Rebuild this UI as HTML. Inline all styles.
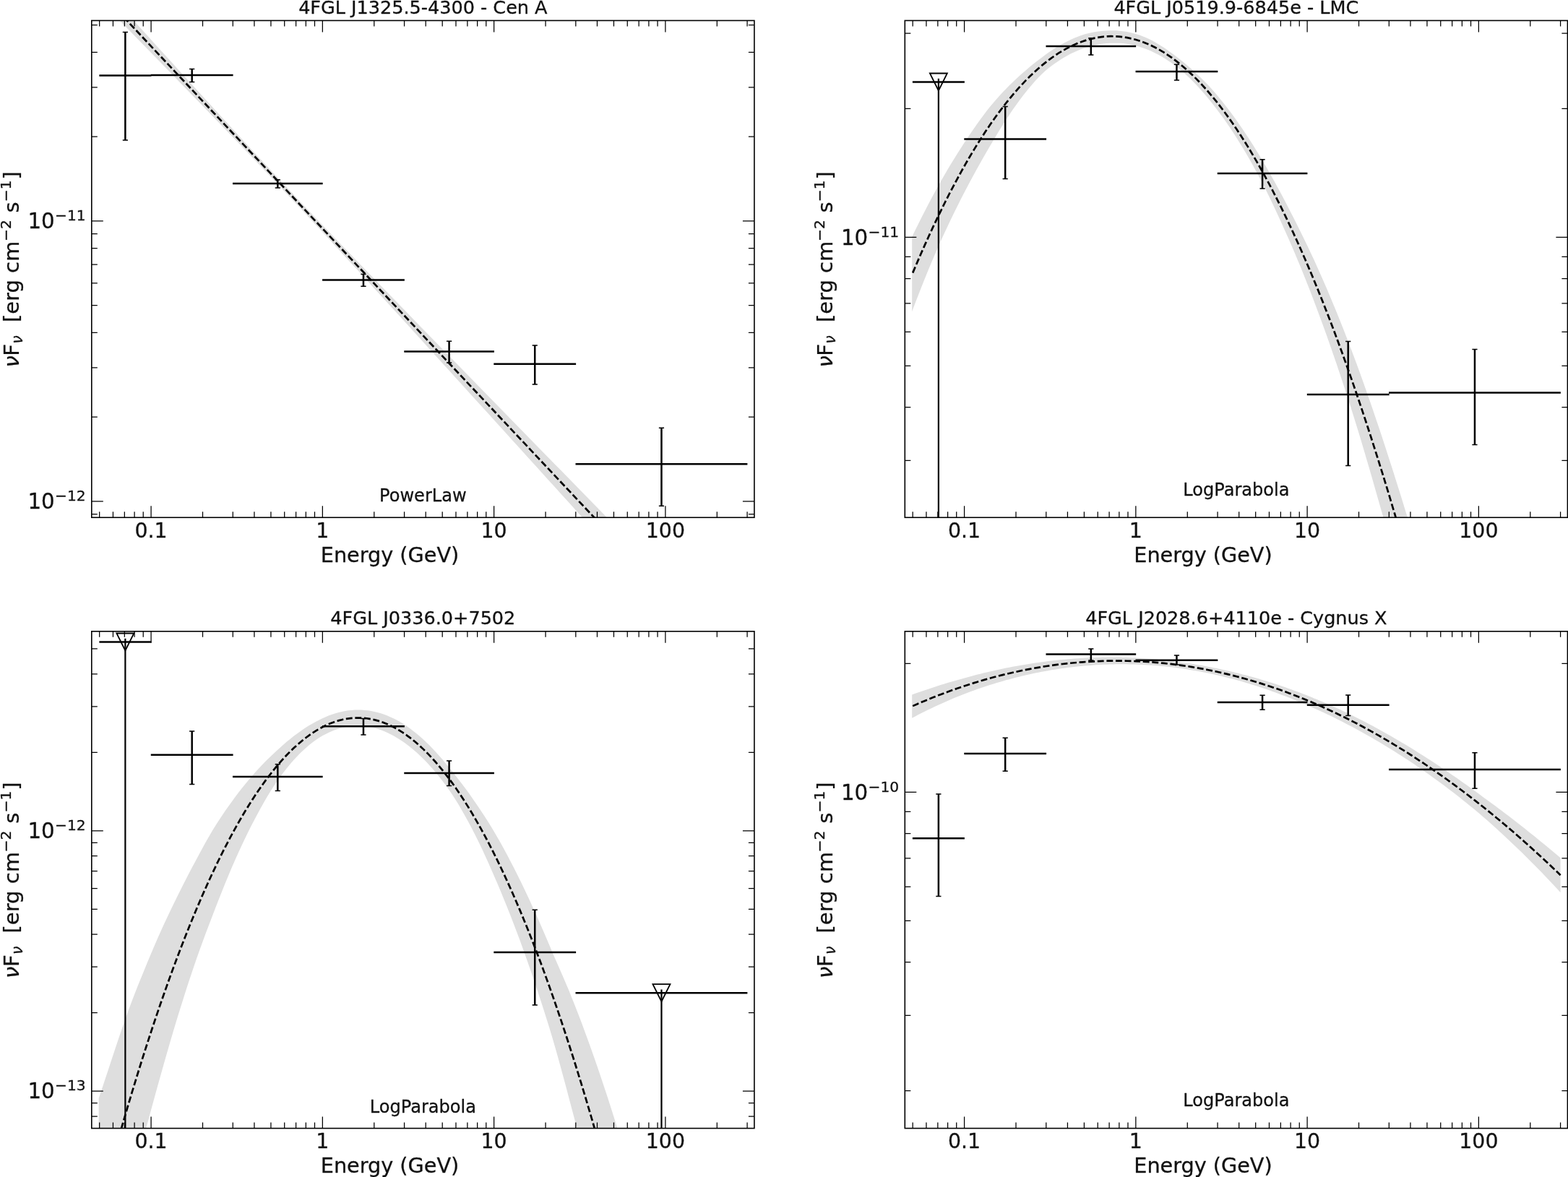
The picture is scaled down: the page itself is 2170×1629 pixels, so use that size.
<!DOCTYPE html>
<html lang="en"><head><meta charset="utf-8"><title>4FGL spectral energy distributions</title>
<style>html,body{margin:0;padding:0;background:#fff;overflow:hidden}svg{display:block}</style></head>
<body>
<svg width="2170" height="1629" viewBox="0 0 2170 1629">
<rect width="2170" height="1629" fill="#fff"/>
<clipPath id="clip0"><rect x="126.8" y="28.45" width="917.1" height="687.8"/></clipPath>
<g clip-path="url(#clip0)">
<path d="M136.66 -24.77 L147.87 -12.41 L159.09 -0.05 L170.31 12.31 L181.53 24.66 L192.75 37.01 L203.96 49.36 L215.18 61.7 L226.4 74.03 L237.62 86.36 L248.83 98.68 L260.05 110.99 L271.27 123.29 L282.49 135.58 L293.71 147.85 L304.92 160.11 L316.14 172.34 L327.36 184.55 L338.58 196.74 L349.79 208.89 L361.01 221 L372.23 233.08 L383.45 245.11 L394.67 257.09 L405.88 269.02 L417.1 280.9 L428.32 292.73 L439.54 304.51 L450.75 316.26 L461.97 327.97 L473.19 339.65 L484.41 351.3 L495.63 362.92 L506.84 374.53 L518.06 386.12 L529.28 397.69 L540.5 409.25 L551.71 420.8 L562.93 432.35 L574.15 443.88 L585.37 455.41 L596.59 466.93 L607.8 478.45 L619.02 489.96 L630.24 501.47 L641.46 512.97 L652.67 524.48 L663.89 535.98 L675.11 547.47 L686.33 558.97 L697.55 570.46 L708.76 581.95 L719.98 593.44 L731.2 604.93 L742.42 616.41 L753.63 627.9 L764.85 639.38 L776.07 650.87 L787.29 662.35 L798.51 673.83 L809.72 685.31 L820.94 696.79 L832.16 708.27 L843.38 719.75 L854.59 731.22 L865.81 742.7 L877.03 754.18 L888.25 765.65 L899.47 777.13 L910.68 788.6 L921.9 800.08 L933.12 811.55 L944.34 823.03 L955.55 834.5 L966.77 845.97 L977.99 857.45 L989.21 868.92 L1000.43 880.39 L1011.64 891.86 L1022.86 903.34 L1034.08 914.81 L1034.08 968.14 L1022.86 955.74 L1011.64 943.35 L1000.43 930.96 L989.21 918.57 L977.99 906.18 L966.77 893.8 L955.55 881.41 L944.34 869.02 L933.12 856.63 L921.9 844.24 L910.68 831.85 L899.47 819.47 L888.25 807.08 L877.03 794.69 L865.81 782.31 L854.59 769.92 L843.38 757.54 L832.16 745.15 L820.94 732.77 L809.72 720.39 L798.51 708 L787.29 695.62 L776.07 683.24 L764.85 670.86 L753.63 658.48 L742.42 646.11 L731.2 633.73 L719.98 621.36 L708.76 608.98 L697.55 596.61 L686.33 584.24 L675.11 571.87 L663.89 559.51 L652.67 547.14 L641.46 534.78 L630.24 522.43 L619.02 510.07 L607.8 497.72 L596.59 485.38 L585.37 473.04 L574.15 460.7 L562.93 448.37 L551.71 436.05 L540.5 423.74 L529.28 411.44 L518.06 399.15 L506.84 386.88 L495.63 374.62 L484.41 362.39 L473.19 350.17 L461.97 337.99 L450.75 325.84 L439.54 313.72 L428.32 301.64 L417.1 289.61 L405.88 277.63 L394.67 265.7 L383.45 253.82 L372.23 241.98 L361.01 230.19 L349.79 218.45 L338.58 206.73 L327.36 195.06 L316.14 183.41 L304.92 171.78 L293.71 160.17 L282.49 148.58 L271.27 137.01 L260.05 125.44 L248.83 113.89 L237.62 102.35 L226.4 90.81 L215.18 79.29 L203.96 67.76 L192.75 56.25 L181.53 44.73 L170.31 33.22 L159.09 21.72 L147.87 10.22 L136.66 -1.28 Z" fill="#dedede"/>
</g>
<path d="M137.66 716.25v-8M137.66 28.45v8M156.44 716.25v-8M156.44 28.45v8M172.33 716.25v-8M172.33 28.45v8M186.09 716.25v-8M186.09 28.45v8M198.22 716.25v-8M198.22 28.45v8M209.08 716.25v-16M209.08 28.45v16M280.5 716.25v-8M280.5 28.45v8M322.28 716.25v-8M322.28 28.45v8M351.93 716.25v-8M351.93 28.45v8M374.92 716.25v-8M374.92 28.45v8M393.71 716.25v-8M393.71 28.45v8M409.59 716.25v-8M409.59 28.45v8M423.35 716.25v-8M423.35 28.45v8M435.49 716.25v-8M435.49 28.45v8M446.35 716.25v-16M446.35 28.45v16M517.77 716.25v-8M517.77 28.45v8M559.55 716.25v-8M559.55 28.45v8M589.19 716.25v-8M589.19 28.45v8M612.19 716.25v-8M612.19 28.45v8M630.97 716.25v-8M630.97 28.45v8M646.86 716.25v-8M646.86 28.45v8M660.62 716.25v-8M660.62 28.45v8M672.75 716.25v-8M672.75 28.45v8M683.61 716.25v-16M683.61 28.45v16M755.03 716.25v-8M755.03 28.45v8M796.81 716.25v-8M796.81 28.45v8M826.46 716.25v-8M826.46 28.45v8M849.45 716.25v-8M849.45 28.45v8M868.24 716.25v-8M868.24 28.45v8M884.12 716.25v-8M884.12 28.45v8M897.88 716.25v-8M897.88 28.45v8M910.02 716.25v-8M910.02 28.45v8M920.87 716.25v-16M920.87 28.45v16M992.3 716.25v-8M992.3 28.45v8M1034.08 716.25v-8M1034.08 28.45v8M126.8 711.72h8M1043.9 711.72h-8M126.8 693.96h16M1043.9 693.96h-16M126.8 577.14h8M1043.9 577.14h-8M126.8 508.81h8M1043.9 508.81h-8M126.8 460.32h8M1043.9 460.32h-8M126.8 422.72h8M1043.9 422.72h-8M126.8 391.99h8M1043.9 391.99h-8M126.8 366.01h8M1043.9 366.01h-8M126.8 343.51h8M1043.9 343.51h-8M126.8 323.66h8M1043.9 323.66h-8M126.8 305.9h16M1043.9 305.9h-16M126.8 189.08h8M1043.9 189.08h-8M126.8 120.75h8M1043.9 120.75h-8M126.8 72.26h8M1043.9 72.26h-8M126.8 34.66h8M1043.9 34.66h-8" stroke="#000" stroke-width="1.25" fill="none"/>
<g clip-path="url(#clip0)" fill="none" stroke="#000">
<path d="M136.66 -13.03 L1034.08 941.47" stroke-width="2.7" stroke-dasharray="8.9 3.7" stroke-dashoffset="0"/>
<path d="M137.36 104.4H209.38M173.37 44.4V194M208.78 104.1H322.58M265.68 95.4V113.5M321.98 254.1H446.65M384.31 248.8V260.1M446.05 387.4H559.85M502.95 379.6V396.2M559.25 486.5H683.91M621.58 472.3V502.1M683.31 503.8H797.11M740.21 478V532M796.51 642.3H1034.38M915.45 592.2V700.2" stroke-width="2.5"/>
<path d="M169.77 44.4h7.2M169.77 194h7.2M262.08 95.4h7.2M262.08 113.5h7.2M380.71 248.8h7.2M380.71 260.1h7.2M499.35 379.6h7.2M499.35 396.2h7.2M617.98 472.3h7.2M617.98 502.1h7.2M736.61 478h7.2M736.61 532h7.2M911.85 592.2h7.2M911.85 700.2h7.2" stroke-width="1.5"/>
</g>
<rect x="126.8" y="28.45" width="917.1" height="687.8" fill="none" stroke="#000" stroke-width="1.6"/>
<g font-family="'DejaVu Sans','Liberation Sans',sans-serif" fill="#111" stroke="#111" stroke-width="0.3" stroke-linejoin="round">
<text x="585.35" y="18.65" font-size="25.5" text-anchor="middle">4FGL J1325.5-4300 - Cen A</text>
<text x="585.35" y="693.5" font-size="24.05" text-anchor="middle">PowerLaw</text>
<text x="209.08" y="743.9" font-size="28.4" text-anchor="middle">0.1</text>
<text x="446.35" y="743.9" font-size="28.4" text-anchor="middle">1</text>
<text x="683.61" y="743.9" font-size="28.4" text-anchor="middle">10</text>
<text x="920.87" y="743.9" font-size="28.4" text-anchor="middle">100</text>
<text x="539.5" y="777.85" font-size="28.7" text-anchor="middle">Energy (GeV)</text>
<text x="118.6" y="704.21" font-size="29.3" text-anchor="end">10<tspan font-size="20.2" dy="-10.9" dx="0.3">−12</tspan></text>
<text x="118.6" y="316.15" font-size="29.3" text-anchor="end">10<tspan font-size="20.2" dy="-10.9" dx="0.3">−11</tspan></text>
<text transform="translate(26.2 510) rotate(-90)" font-size="29.0"><tspan x="1.43" y="0" font-style="oblique">ν</tspan><tspan x="17.28" y="0">F</tspan><tspan x="34.25" y="4.7" font-size="20.3" font-style="oblique">ν</tspan><tspan x="63.9" y="0">[erg cm</tspan><tspan x="175.98" y="-11" font-size="20.3">−2</tspan><tspan x="215.58" y="0">s</tspan><tspan x="230.88" y="-11" font-size="20.3">−1</tspan><tspan x="261.6" y="0">]</tspan></text>
</g>
<clipPath id="clip1"><rect x="1252.3" y="28.45" width="917.1" height="687.8"/></clipPath>
<g clip-path="url(#clip1)">
<path d="M1262.16 327.86 L1266.64 318.57 L1271.13 309.44 L1275.62 300.47 L1280.11 291.66 L1284.59 283 L1289.08 274.5 L1293.57 266.18 L1298.05 258.03 L1302.54 250.05 L1307.03 242.24 L1311.51 234.59 L1316 227.09 L1320.49 219.74 L1324.98 212.54 L1329.46 205.48 L1333.95 198.55 L1338.44 191.76 L1342.92 185.07 L1347.41 178.5 L1351.9 172.07 L1356.39 165.79 L1360.87 159.7 L1365.36 153.8 L1369.85 148.12 L1374.33 142.68 L1378.82 137.45 L1383.31 132.43 L1387.8 127.59 L1392.28 122.91 L1396.77 118.36 L1401.26 113.93 L1405.74 109.68 L1410.23 105.58 L1414.72 101.58 L1419.21 97.65 L1423.69 93.79 L1428.18 90.08 L1432.67 86.5 L1437.15 83.03 L1441.64 79.66 L1446.13 76.35 L1450.62 73.12 L1455.1 70.04 L1459.59 67.1 L1464.08 64.32 L1468.56 61.69 L1473.05 59.22 L1477.54 56.91 L1482.03 54.76 L1486.51 52.79 L1491 50.97 L1495.49 49.33 L1499.97 47.86 L1504.46 46.58 L1508.95 45.46 L1513.43 44.53 L1517.92 43.76 L1522.41 43.15 L1526.9 42.7 L1531.38 42.39 L1535.87 42.23 L1540.36 42.21 L1544.84 42.36 L1549.33 42.69 L1553.82 43.19 L1558.31 43.86 L1562.79 44.71 L1567.28 45.73 L1571.77 46.92 L1576.25 48.32 L1580.74 49.95 L1585.23 51.8 L1589.72 53.85 L1594.2 56.1 L1598.69 58.53 L1603.18 61.14 L1607.66 63.92 L1612.15 66.85 L1616.64 69.93 L1621.13 73.14 L1625.61 76.48 L1630.1 79.93 L1634.59 83.48 L1639.07 87.12 L1643.56 90.88 L1648.05 94.76 L1652.54 98.77 L1657.02 102.92 L1661.51 107.22 L1666 111.67 L1670.48 116.3 L1674.97 121.1 L1679.46 126.08 L1683.95 131.26 L1688.43 136.64 L1692.92 142.18 L1697.41 147.9 L1701.89 153.78 L1706.38 159.83 L1710.87 166.05 L1715.35 172.43 L1719.84 178.97 L1724.33 185.68 L1728.82 192.54 L1733.3 199.56 L1737.79 206.74 L1742.28 214.08 L1746.76 221.57 L1751.25 229.21 L1755.74 236.99 L1760.23 244.92 L1764.71 252.99 L1769.2 261.21 L1773.69 269.56 L1778.17 278.05 L1782.66 286.68 L1787.15 295.45 L1791.64 304.35 L1796.12 313.32 L1800.61 322.37 L1805.1 331.51 L1809.58 340.79 L1814.07 350.22 L1818.56 359.83 L1823.05 369.64 L1827.53 379.68 L1832.02 389.91 L1836.51 400.31 L1840.99 410.89 L1845.48 421.64 L1849.97 432.58 L1854.46 443.7 L1858.94 454.99 L1863.43 466.48 L1867.92 478.14 L1872.4 490 L1876.89 502.06 L1881.38 514.32 L1885.87 526.78 L1890.35 539.43 L1894.84 552.27 L1899.33 565.29 L1903.81 578.48 L1908.3 591.84 L1912.79 605.37 L1917.27 619.05 L1921.76 632.88 L1926.25 646.86 L1930.74 660.98 L1935.22 675.24 L1939.71 689.62 L1944.2 704.13 L1948.68 718.75 L1953.17 733.41 L1957.66 748.13 L1962.15 762.93 L1966.63 777.84 L1971.12 792.91 L1975.61 808.16 L1980.09 823.62 L1984.58 839.33 L1989.07 855.32 L1993.56 871.57 L1998.04 888 L2002.53 904.62 L2007.02 921.41 L2011.5 938.38 L2015.99 955.54 L2020.48 972.88 L2024.97 990.4 L2029.45 1008.1 L2033.94 1025.98 L2038.43 1044.05 L2042.91 1062.3 L2047.4 1080.74 L2051.89 1099.36 L2056.38 1118.16 L2060.86 1137.16 L2065.35 1156.33 L2069.84 1175.7 L2074.32 1195.25 L2078.81 1214.99 L2083.3 1234.92 L2087.79 1255.04 L2092.27 1275.34 L2096.76 1295.84 L2101.25 1316.52 L2105.73 1337.4 L2110.22 1358.47 L2114.71 1379.72 L2119.19 1401.17 L2123.68 1422.82 L2128.17 1444.65 L2132.66 1466.68 L2137.14 1488.91 L2141.63 1511.32 L2146.12 1533.93 L2150.6 1556.74 L2155.09 1579.74 L2159.58 1602.94 L2159.58 1822.8 L2155.09 1798.02 L2150.6 1773.41 L2146.12 1748.97 L2141.63 1724.7 L2137.14 1700.59 L2132.66 1676.65 L2128.17 1652.88 L2123.68 1629.28 L2119.19 1605.85 L2114.71 1582.58 L2110.22 1559.48 L2105.73 1536.55 L2101.25 1513.79 L2096.76 1491.2 L2092.27 1468.78 L2087.79 1446.53 L2083.3 1424.44 L2078.81 1402.52 L2074.32 1380.78 L2069.84 1359.2 L2065.35 1337.79 L2060.86 1316.55 L2056.38 1295.48 L2051.89 1274.58 L2047.4 1253.85 L2042.91 1233.29 L2038.43 1212.9 L2033.94 1192.68 L2029.45 1172.63 L2024.97 1152.75 L2020.48 1133.04 L2015.99 1113.5 L2011.5 1094.13 L2007.02 1074.93 L2002.53 1055.91 L1998.04 1037.05 L1993.56 1018.36 L1989.07 999.85 L1984.58 981.51 L1980.09 963.35 L1975.61 945.37 L1971.12 927.56 L1966.63 909.93 L1962.15 892.46 L1957.66 875.15 L1953.17 858.01 L1948.68 841.02 L1944.2 824.19 L1939.71 807.51 L1935.22 790.98 L1930.74 774.6 L1926.25 758.35 L1921.76 742.25 L1917.27 726.29 L1912.79 710.45 L1908.3 694.68 L1903.81 678.96 L1899.33 663.34 L1894.84 647.83 L1890.35 632.48 L1885.87 617.32 L1881.38 602.36 L1876.89 587.66 L1872.4 573.23 L1867.92 559.09 L1863.43 545.17 L1858.94 531.45 L1854.46 517.93 L1849.97 504.61 L1845.48 491.49 L1840.99 478.57 L1836.51 465.85 L1832.02 453.33 L1827.53 441.01 L1823.05 428.89 L1818.56 416.97 L1814.07 405.26 L1809.58 393.74 L1805.1 382.42 L1800.61 371.31 L1796.12 360.43 L1791.64 349.76 L1787.15 339.31 L1782.66 329.04 L1778.17 318.95 L1773.69 309.02 L1769.2 299.23 L1764.71 289.54 L1760.23 279.99 L1755.74 270.64 L1751.25 261.54 L1746.76 252.77 L1742.28 244.24 L1737.79 235.9 L1733.3 227.77 L1728.82 219.83 L1724.33 212.08 L1719.84 204.54 L1715.35 197.19 L1710.87 190.03 L1706.38 183.07 L1701.89 176.31 L1697.41 169.74 L1692.92 163.37 L1688.43 157.18 L1683.95 151.2 L1679.46 145.39 L1674.97 139.75 L1670.48 134.28 L1666 128.99 L1661.51 123.89 L1657.02 118.98 L1652.54 114.26 L1648.05 109.74 L1643.56 105.42 L1639.07 101.31 L1634.59 97.42 L1630.1 93.74 L1625.61 90.29 L1621.13 87.03 L1616.64 83.95 L1612.15 81.06 L1607.66 78.35 L1603.18 75.83 L1598.69 73.49 L1594.2 71.33 L1589.72 69.35 L1585.23 67.55 L1580.74 65.92 L1576.25 64.48 L1571.77 63.2 L1567.28 62.12 L1562.79 61.26 L1558.31 60.6 L1553.82 60.12 L1549.33 59.82 L1544.84 59.67 L1540.36 59.66 L1535.87 59.77 L1531.38 60.04 L1526.9 60.47 L1522.41 61.07 L1517.92 61.83 L1513.43 62.77 L1508.95 63.89 L1504.46 65.18 L1499.97 66.67 L1495.49 68.32 L1491 70.16 L1486.51 72.16 L1482.03 74.34 L1477.54 76.71 L1473.05 79.25 L1468.56 81.99 L1464.08 84.91 L1459.59 88.02 L1455.1 91.32 L1450.62 94.83 L1446.13 98.54 L1441.64 102.66 L1437.15 107.17 L1432.67 112.02 L1428.18 117.14 L1423.69 122.46 L1419.21 127.94 L1414.72 133.66 L1410.23 139.66 L1405.74 145.9 L1401.26 152.33 L1396.77 158.94 L1392.28 165.79 L1387.8 172.84 L1383.31 180.06 L1378.82 187.42 L1374.33 194.88 L1369.85 202.46 L1365.36 210.18 L1360.87 218.02 L1356.39 225.96 L1351.9 234 L1347.41 242.16 L1342.92 250.45 L1338.44 258.89 L1333.95 267.5 L1329.46 276.27 L1324.98 285.22 L1320.49 294.29 L1316 303.53 L1311.51 312.94 L1307.03 322.54 L1302.54 332.37 L1298.05 342.44 L1293.57 352.75 L1289.08 363.28 L1284.59 374.05 L1280.11 385.03 L1275.62 396.24 L1271.13 407.67 L1266.64 419.32 L1262.16 431.19 Z" fill="#dedede"/>
</g>
<path d="M1263.16 716.25v-8M1263.16 28.45v8M1281.94 716.25v-8M1281.94 28.45v8M1297.83 716.25v-8M1297.83 28.45v8M1311.59 716.25v-8M1311.59 28.45v8M1323.72 716.25v-8M1323.72 28.45v8M1334.58 716.25v-16M1334.58 28.45v16M1406 716.25v-8M1406 28.45v8M1447.78 716.25v-8M1447.78 28.45v8M1477.43 716.25v-8M1477.43 28.45v8M1500.42 716.25v-8M1500.42 28.45v8M1519.21 716.25v-8M1519.21 28.45v8M1535.09 716.25v-8M1535.09 28.45v8M1548.85 716.25v-8M1548.85 28.45v8M1560.99 716.25v-8M1560.99 28.45v8M1571.85 716.25v-16M1571.85 28.45v16M1643.27 716.25v-8M1643.27 28.45v8M1685.05 716.25v-8M1685.05 28.45v8M1714.69 716.25v-8M1714.69 28.45v8M1737.69 716.25v-8M1737.69 28.45v8M1756.47 716.25v-8M1756.47 28.45v8M1772.36 716.25v-8M1772.36 28.45v8M1786.12 716.25v-8M1786.12 28.45v8M1798.25 716.25v-8M1798.25 28.45v8M1809.11 716.25v-16M1809.11 28.45v16M1880.53 716.25v-8M1880.53 28.45v8M1922.31 716.25v-8M1922.31 28.45v8M1951.96 716.25v-8M1951.96 28.45v8M1974.95 716.25v-8M1974.95 28.45v8M1993.74 716.25v-8M1993.74 28.45v8M2009.62 716.25v-8M2009.62 28.45v8M2023.38 716.25v-8M2023.38 28.45v8M2035.52 716.25v-8M2035.52 28.45v8M2046.37 716.25v-16M2046.37 28.45v16M2117.8 716.25v-8M2117.8 28.45v8M2159.58 716.25v-8M2159.58 28.45v8M1252.3 637.48h8M2169.4 637.48h-8M1252.3 563.6h8M2169.4 563.6h-8M1252.3 506.3h8M2169.4 506.3h-8M1252.3 459.48h8M2169.4 459.48h-8M1252.3 419.89h8M2169.4 419.89h-8M1252.3 385.6h8M2169.4 385.6h-8M1252.3 355.36h8M2169.4 355.36h-8M1252.3 328.3h16M2169.4 328.3h-16M1252.3 150.3h8M2169.4 150.3h-8M1252.3 46.18h8M2169.4 46.18h-8" stroke="#000" stroke-width="1.25" fill="none"/>
<g clip-path="url(#clip1)" fill="none" stroke="#000">
<path d="M1263.16 377.64 L1268.76 364.46 L1274.36 351.55 L1279.96 338.91 L1285.57 326.54 L1291.17 314.44 L1296.77 302.61 L1302.38 291.06 L1307.98 279.77 L1313.58 268.76 L1319.18 258.01 L1324.79 247.54 L1330.39 237.34 L1335.99 227.41 L1341.59 217.75 L1347.2 208.36 L1352.8 199.24 L1358.4 190.39 L1364 181.81 L1369.61 173.5 L1375.21 165.47 L1380.81 157.7 L1386.41 150.21 L1392.02 142.98 L1397.62 136.03 L1403.22 129.35 L1408.83 122.94 L1414.43 116.8 L1420.03 110.93 L1425.63 105.33 L1431.24 100 L1436.84 94.94 L1442.44 90.15 L1448.04 85.64 L1453.65 81.39 L1459.25 77.42 L1464.85 73.71 L1470.45 70.28 L1476.06 67.12 L1481.66 64.23 L1487.26 61.61 L1492.86 59.26 L1498.47 57.18 L1504.07 55.37 L1509.67 53.83 L1515.28 52.56 L1520.88 51.57 L1526.48 50.84 L1532.08 50.39 L1537.69 50.2 L1543.29 50.29 L1548.89 50.65 L1554.49 51.28 L1560.1 52.18 L1565.7 53.35 L1571.3 54.79 L1576.9 56.5 L1582.51 58.48 L1588.11 60.73 L1593.71 63.26 L1599.32 66.05 L1604.92 69.12 L1610.52 72.45 L1616.12 76.06 L1621.73 79.94 L1627.33 84.09 L1632.93 88.51 L1638.53 93.2 L1644.14 98.16 L1649.74 103.39 L1655.34 108.89 L1660.94 114.66 L1666.55 120.71 L1672.15 127.02 L1677.75 133.61 L1683.35 140.46 L1688.96 147.59 L1694.56 154.99 L1700.16 162.65 L1705.77 170.59 L1711.37 178.8 L1716.97 187.28 L1722.57 196.04 L1728.18 205.06 L1733.78 214.35 L1739.38 223.91 L1744.98 233.75 L1750.59 243.85 L1756.19 254.23 L1761.79 264.88 L1767.39 275.79 L1773 286.98 L1778.6 298.44 L1784.2 310.17 L1789.8 322.17 L1795.41 334.44 L1801.01 346.99 L1806.61 359.8 L1812.22 372.88 L1817.82 386.24 L1823.42 399.86 L1829.02 413.76 L1834.63 427.92 L1840.23 442.36 L1845.83 457.07 L1851.43 472.05 L1857.04 487.3 L1862.64 502.82 L1868.24 518.61 L1873.84 534.67 L1879.45 551.01 L1885.05 567.61 L1890.65 584.48 L1896.25 601.63 L1901.86 619.04 L1907.46 636.73 L1913.06 654.69 L1918.67 672.92 L1924.27 691.42 L1929.87 710.19 L1935.47 729.23 L1941.08 748.54 L1946.68 768.12 L1952.28 787.97 L1957.88 808.1 L1963.49 828.49 L1969.09 849.16 L1974.69 870.09 L1980.29 891.3 L1985.9 912.78 L1991.5 934.52 L1997.1 956.54 L2002.71 978.83 L2008.31 1001.39 L2013.91 1024.22 L2019.51 1047.33 L2025.12 1070.7 L2030.72 1094.34 L2036.32 1118.26 L2041.92 1142.44 L2047.53 1166.9 L2053.13 1191.62 L2058.73 1216.62 L2064.33 1241.89 L2069.94 1267.43 L2075.54 1293.24 L2081.14 1319.32 L2086.74 1345.67 L2092.35 1372.29 L2097.95 1399.18 L2103.55 1426.35 L2109.16 1453.78 L2114.76 1481.49 L2120.36 1509.46 L2125.96 1537.71 L2131.57 1566.23 L2137.17 1595.01 L2142.77 1624.07 L2148.37 1653.4 L2153.98 1683 L2159.58 1712.87" stroke-width="2.7" stroke-dasharray="8.9 3.7" stroke-dashoffset="0"/>
<path d="M1262.86 113.5H1334.88M1334.28 192.6H1448.08M1391.18 147.5V247.4M1447.48 63.9H1572.15M1509.81 52.8V76M1571.55 99.1H1685.35M1628.45 89.2V110.9M1684.75 239.9H1809.41M1747.08 220.8V260.9M1808.81 546H1922.61M1865.71 472.5V644.5M1922.01 543.5H2159.88M2040.95 483.5V615.5" stroke-width="2.5"/>
<path d="M1387.58 147.5h7.2M1387.58 247.4h7.2M1506.21 52.8h7.2M1506.21 76h7.2M1624.85 89.2h7.2M1624.85 110.9h7.2M1743.48 220.8h7.2M1743.48 260.9h7.2M1862.11 472.5h7.2M1862.11 644.5h7.2M2037.35 483.5h7.2M2037.35 615.5h7.2" stroke-width="1.5"/>
<path d="M1298.87 108.8V721.25" stroke-width="2.2"/>
<path d="M1286.87 101.5H1310.87L1298.87 125.5Z" stroke-width="1.8" stroke-linejoin="miter"/>
</g>
<rect x="1252.3" y="28.45" width="917.1" height="687.8" fill="none" stroke="#000" stroke-width="1.6"/>
<g font-family="'DejaVu Sans','Liberation Sans',sans-serif" fill="#111" stroke="#111" stroke-width="0.3" stroke-linejoin="round">
<text x="1710.85" y="18.65" font-size="25.5" text-anchor="middle">4FGL J0519.9-6845e - LMC</text>
<text x="1710.85" y="686" font-size="24.05" text-anchor="middle">LogParabola</text>
<text x="1334.58" y="743.9" font-size="28.4" text-anchor="middle">0.1</text>
<text x="1571.85" y="743.9" font-size="28.4" text-anchor="middle">1</text>
<text x="1809.11" y="743.9" font-size="28.4" text-anchor="middle">10</text>
<text x="2046.37" y="743.9" font-size="28.4" text-anchor="middle">100</text>
<text x="1664.99" y="777.85" font-size="28.7" text-anchor="middle">Energy (GeV)</text>
<text x="1244.1" y="338.55" font-size="29.3" text-anchor="end">10<tspan font-size="20.2" dy="-10.9" dx="0.3">−11</tspan></text>
<text transform="translate(1151.7 510) rotate(-90)" font-size="29.0"><tspan x="1.43" y="0" font-style="oblique">ν</tspan><tspan x="17.28" y="0">F</tspan><tspan x="34.25" y="4.7" font-size="20.3" font-style="oblique">ν</tspan><tspan x="63.9" y="0">[erg cm</tspan><tspan x="175.98" y="-11" font-size="20.3">−2</tspan><tspan x="215.58" y="0">s</tspan><tspan x="230.88" y="-11" font-size="20.3">−1</tspan><tspan x="261.6" y="0">]</tspan></text>
</g>
<clipPath id="clip2"><rect x="126.8" y="873.8" width="917.1" height="687.8"/></clipPath>
<g clip-path="url(#clip2)">
<path d="M136.66 1520.12 L141.14 1506.7 L145.63 1493.27 L150.12 1479.73 L154.61 1466.1 L159.09 1452.5 L163.58 1439.02 L168.07 1425.76 L172.55 1412.84 L177.04 1400.33 L181.53 1388.25 L186.01 1376.53 L190.5 1365.11 L194.99 1353.91 L199.48 1342.89 L203.96 1331.99 L208.45 1321.24 L212.94 1310.68 L217.42 1300.33 L221.91 1290.19 L226.4 1280.3 L230.89 1270.67 L235.37 1261.24 L239.86 1251.96 L244.35 1242.76 L248.83 1233.69 L253.32 1224.77 L257.81 1216 L262.3 1207.36 L266.78 1198.83 L271.27 1190.39 L275.76 1182.01 L280.24 1173.72 L284.73 1165.59 L289.22 1157.68 L293.71 1150.02 L298.19 1142.69 L302.68 1135.67 L307.17 1128.9 L311.65 1122.35 L316.14 1115.96 L320.63 1109.68 L325.12 1103.55 L329.6 1097.6 L334.09 1091.82 L338.58 1086.2 L343.06 1080.73 L347.55 1075.4 L352.04 1070.21 L356.53 1065.23 L361.01 1060.45 L365.5 1055.83 L369.99 1051.36 L374.47 1047.01 L378.96 1042.74 L383.45 1038.54 L387.93 1034.4 L392.42 1030.41 L396.91 1026.57 L401.4 1022.88 L405.88 1019.34 L410.37 1015.95 L414.86 1012.69 L419.34 1009.57 L423.83 1006.62 L428.32 1003.87 L432.81 1001.28 L437.29 998.84 L441.78 996.52 L446.27 994.3 L450.75 992.24 L455.24 990.37 L459.73 988.71 L464.22 987.24 L468.7 985.98 L473.19 984.91 L477.68 984.04 L482.16 983.36 L486.65 982.88 L491.14 982.59 L495.63 982.5 L500.11 982.59 L504.6 982.88 L509.09 983.37 L513.57 984.05 L518.06 984.93 L522.55 986.01 L527.04 987.3 L531.52 988.79 L536.01 990.49 L540.5 992.39 L544.98 994.5 L549.47 996.83 L553.96 999.36 L558.45 1002.11 L562.93 1005.08 L567.42 1008.26 L571.91 1011.64 L576.39 1015.23 L580.88 1019.02 L585.37 1023.02 L589.85 1027.21 L594.34 1031.6 L598.83 1036.18 L603.32 1040.96 L607.8 1045.93 L612.29 1051.08 L616.78 1056.42 L621.26 1061.94 L625.75 1067.55 L630.24 1073.21 L634.73 1078.93 L639.21 1084.76 L643.7 1090.71 L648.19 1096.83 L652.67 1103.15 L657.16 1109.66 L661.65 1116.26 L666.14 1122.96 L670.62 1129.8 L675.11 1136.8 L679.6 1144.02 L684.08 1151.47 L688.57 1159.18 L693.06 1167.11 L697.55 1175.25 L702.03 1183.6 L706.52 1192.13 L711.01 1200.85 L715.49 1209.74 L719.98 1218.81 L724.47 1228.06 L728.96 1237.49 L733.44 1247.1 L737.93 1256.89 L742.42 1266.85 L746.9 1276.97 L751.39 1287.26 L755.88 1297.74 L760.37 1308.32 L764.85 1318.88 L769.34 1329.28 L773.83 1339.54 L778.31 1349.79 L782.8 1360.18 L787.29 1370.84 L791.77 1381.9 L796.26 1393.24 L800.75 1404.8 L805.24 1416.61 L809.72 1428.65 L814.21 1440.93 L818.7 1453.46 L823.18 1466.23 L827.67 1479.23 L832.16 1492.45 L836.65 1505.91 L841.13 1519.6 L845.62 1533.55 L850.11 1547.76 L854.59 1562.23 L859.08 1576.99 L863.57 1592.01 L868.06 1607.26 L872.54 1622.72 L877.03 1638.41 L881.52 1654.32 L886 1670.45 L890.49 1686.81 L894.98 1703.39 L899.47 1720.2 L903.95 1737.23 L908.44 1754.49 L912.93 1771.97 L917.41 1789.68 L921.9 1807.62 L926.39 1825.79 L930.88 1844.18 L935.36 1862.8 L939.85 1881.65 L944.34 1900.73 L948.82 1920.05 L953.31 1939.59 L957.8 1959.36 L962.29 1979.37 L966.77 1999.61 L971.26 2020.08 L975.75 2040.78 L980.23 2061.72 L984.72 2082.89 L989.21 2104.3 L993.69 2125.94 L998.18 2147.82 L1002.67 2169.93 L1007.16 2192.28 L1011.64 2214.87 L1016.13 2237.7 L1020.62 2260.77 L1025.1 2284.07 L1029.59 2307.61 L1034.08 2331.43 L1034.08 2731.43 L1029.59 2704.21 L1025.1 2677.15 L1020.62 2650.28 L1016.13 2623.6 L1011.64 2597.1 L1007.16 2570.8 L1002.67 2544.68 L998.18 2518.75 L993.69 2493.02 L989.21 2467.47 L984.72 2442.12 L980.23 2416.96 L975.75 2391.99 L971.26 2367.21 L966.77 2342.63 L962.29 2318.24 L957.8 2294.04 L953.31 2270.05 L948.82 2246.24 L944.34 2222.63 L939.85 2199.22 L935.36 2176.01 L930.88 2152.99 L926.39 2130.17 L921.9 2107.55 L917.41 2085.13 L912.93 2062.91 L908.44 2040.89 L903.95 2019.07 L899.47 1997.45 L894.98 1976.03 L890.49 1954.82 L886 1933.81 L881.52 1913 L877.03 1892.39 L872.54 1871.99 L868.06 1851.79 L863.57 1831.8 L859.08 1812.01 L854.59 1792.38 L850.11 1772.91 L845.62 1753.58 L841.13 1734.43 L836.65 1715.45 L832.16 1696.66 L827.67 1678.06 L823.18 1659.66 L818.7 1641.47 L814.21 1623.45 L809.72 1605.62 L805.24 1587.98 L800.75 1570.52 L796.26 1553.25 L791.77 1536.18 L787.29 1519.26 L782.8 1502.37 L778.31 1485.63 L773.83 1469.18 L769.34 1453.17 L764.85 1437.73 L760.37 1422.87 L755.88 1408.46 L751.39 1394.37 L746.9 1380.52 L742.42 1366.93 L737.93 1353.61 L733.44 1340.54 L728.96 1327.72 L724.47 1315.15 L719.98 1302.82 L715.49 1290.74 L711.01 1278.91 L706.52 1267.33 L702.03 1255.99 L697.55 1244.89 L693.06 1234.02 L688.57 1223.36 L684.08 1212.91 L679.6 1202.63 L675.11 1192.53 L670.62 1182.65 L666.14 1173.04 L661.65 1163.71 L657.16 1154.71 L652.67 1146.05 L648.19 1137.61 L643.7 1129.41 L639.21 1121.48 L634.73 1113.83 L630.24 1106.52 L625.75 1099.56 L621.26 1092.98 L616.78 1086.75 L612.29 1080.75 L607.8 1075 L603.32 1069.49 L598.83 1064.21 L594.34 1059.17 L589.85 1054.36 L585.37 1049.78 L580.88 1045.43 L576.39 1041.31 L571.91 1037.4 L567.42 1033.72 L562.93 1030.26 L558.45 1027.02 L553.96 1023.98 L549.47 1021.16 L544.98 1018.56 L540.5 1016.17 L536.01 1014 L531.52 1012.04 L527.04 1010.31 L522.55 1008.8 L518.06 1007.51 L513.57 1006.45 L509.09 1005.62 L504.6 1005.02 L500.11 1004.64 L495.63 1004.5 L491.14 1004.6 L486.65 1004.93 L482.16 1005.49 L477.68 1006.29 L473.19 1007.32 L468.7 1008.58 L464.22 1010.07 L459.73 1011.78 L455.24 1013.73 L450.75 1015.89 L446.27 1018.28 L441.78 1020.95 L437.29 1023.95 L432.81 1027.25 L428.32 1030.83 L423.83 1034.67 L419.34 1038.74 L414.86 1043.07 L410.37 1047.69 L405.88 1052.6 L401.4 1057.78 L396.91 1063.25 L392.42 1069 L387.93 1075.01 L383.45 1081.31 L378.96 1087.97 L374.47 1095 L369.99 1102.36 L365.5 1110.03 L361.01 1117.99 L356.53 1126.2 L352.04 1134.64 L347.55 1143.31 L343.06 1152.26 L338.58 1161.49 L334.09 1171.01 L329.6 1180.78 L325.12 1190.82 L320.63 1201.1 L316.14 1211.65 L311.65 1222.53 L307.17 1233.67 L302.68 1245.03 L298.19 1256.55 L293.71 1268.19 L289.22 1279.94 L284.73 1291.85 L280.24 1303.97 L275.76 1316.37 L271.27 1329.1 L266.78 1342.19 L262.3 1355.62 L257.81 1369.36 L253.32 1383.41 L248.83 1397.74 L244.35 1412.33 L239.86 1427.23 L235.37 1442.47 L230.89 1457.99 L226.4 1473.73 L221.91 1489.64 L217.42 1505.74 L212.94 1522.04 L208.45 1538.56 L203.96 1555.33 L199.48 1572.36 L194.99 1589.7 L190.5 1607.3 L186.01 1625.09 L181.53 1643.02 L177.04 1661.01 L172.55 1679 L168.07 1697 L163.58 1715.09 L159.09 1733.39 L154.61 1752 L150.12 1771 L145.63 1790.51 L141.14 1810.58 L136.66 1831.07 Z" fill="#dedede"/>
</g>
<path d="M137.66 1561.6v-8M137.66 873.8v8M156.44 1561.6v-8M156.44 873.8v8M172.33 1561.6v-8M172.33 873.8v8M186.09 1561.6v-8M186.09 873.8v8M198.22 1561.6v-8M198.22 873.8v8M209.08 1561.6v-16M209.08 873.8v16M280.5 1561.6v-8M280.5 873.8v8M322.28 1561.6v-8M322.28 873.8v8M351.93 1561.6v-8M351.93 873.8v8M374.92 1561.6v-8M374.92 873.8v8M393.71 1561.6v-8M393.71 873.8v8M409.59 1561.6v-8M409.59 873.8v8M423.35 1561.6v-8M423.35 873.8v8M435.49 1561.6v-8M435.49 873.8v8M446.35 1561.6v-16M446.35 873.8v16M517.77 1561.6v-8M517.77 873.8v8M559.55 1561.6v-8M559.55 873.8v8M589.19 1561.6v-8M589.19 873.8v8M612.19 1561.6v-8M612.19 873.8v8M630.97 1561.6v-8M630.97 873.8v8M646.86 1561.6v-8M646.86 873.8v8M660.62 1561.6v-8M660.62 873.8v8M672.75 1561.6v-8M672.75 873.8v8M683.61 1561.6v-16M683.61 873.8v16M755.03 1561.6v-8M755.03 873.8v8M796.81 1561.6v-8M796.81 873.8v8M826.46 1561.6v-8M826.46 873.8v8M849.45 1561.6v-8M849.45 873.8v8M868.24 1561.6v-8M868.24 873.8v8M884.12 1561.6v-8M884.12 873.8v8M897.88 1561.6v-8M897.88 873.8v8M910.02 1561.6v-8M910.02 873.8v8M920.87 1561.6v-16M920.87 873.8v16M992.3 1561.6v-8M992.3 873.8v8M1034.08 1561.6v-8M1034.08 873.8v8M126.8 1545.06h8M1043.9 1545.06h-8M126.8 1526.63h8M1043.9 1526.63h-8M126.8 1510.14h16M1043.9 1510.14h-16M126.8 1401.66h8M1043.9 1401.66h-8M126.8 1338.2h8M1043.9 1338.2h-8M126.8 1293.18h8M1043.9 1293.18h-8M126.8 1258.25h8M1043.9 1258.25h-8M126.8 1229.72h8M1043.9 1229.72h-8M126.8 1205.59h8M1043.9 1205.59h-8M126.8 1184.69h8M1043.9 1184.69h-8M126.8 1166.26h8M1043.9 1166.26h-8M126.8 1149.77h16M1043.9 1149.77h-16M126.8 1041.29h8M1043.9 1041.29h-8M126.8 977.83h8M1043.9 977.83h-8M126.8 932.81h8M1043.9 932.81h-8M126.8 897.88h8M1043.9 897.88h-8" stroke="#000" stroke-width="1.25" fill="none"/>
<g clip-path="url(#clip2)" fill="none" stroke="#000">
<path d="M137.66 1671.8 L143.26 1650.72 L148.86 1629.97 L154.46 1609.56 L160.07 1589.47 L165.67 1569.73 L171.27 1550.31 L176.88 1531.23 L182.48 1512.48 L188.08 1494.06 L193.68 1475.98 L199.29 1458.22 L204.89 1440.8 L210.49 1423.72 L216.09 1406.96 L221.7 1390.54 L227.3 1374.45 L232.9 1358.7 L238.5 1343.28 L244.11 1328.19 L249.71 1313.43 L255.31 1299 L260.91 1284.91 L266.52 1271.15 L272.12 1257.73 L277.72 1244.63 L283.33 1231.87 L288.93 1219.44 L294.53 1207.35 L300.13 1195.58 L305.74 1184.15 L311.34 1173.06 L316.94 1162.29 L322.54 1151.86 L328.15 1141.76 L333.75 1131.99 L339.35 1122.56 L344.95 1113.46 L350.56 1104.69 L356.16 1096.26 L361.76 1088.15 L367.36 1080.38 L372.97 1072.95 L378.57 1065.84 L384.17 1059.07 L389.78 1052.63 L395.38 1046.52 L400.98 1040.75 L406.58 1035.31 L412.19 1030.2 L417.79 1025.42 L423.39 1020.98 L428.99 1016.87 L434.6 1013.09 L440.2 1009.65 L445.8 1006.54 L451.4 1003.76 L457.01 1001.31 L462.61 999.2 L468.21 997.42 L473.82 995.97 L479.42 994.85 L485.02 994.07 L490.62 993.62 L496.23 993.5 L501.83 993.72 L507.43 994.27 L513.03 995.15 L518.64 996.36 L524.24 997.91 L529.84 999.79 L535.44 1002 L541.05 1004.54 L546.65 1007.42 L552.25 1010.63 L557.85 1014.17 L563.46 1018.05 L569.06 1022.26 L574.66 1026.8 L580.27 1031.67 L585.87 1036.88 L591.47 1042.42 L597.07 1048.29 L602.68 1054.49 L608.28 1061.03 L613.88 1067.9 L619.48 1075.1 L625.09 1082.64 L630.69 1090.51 L636.29 1098.71 L641.89 1107.24 L647.5 1116.11 L653.1 1125.31 L658.7 1134.84 L664.3 1144.7 L669.91 1154.9 L675.51 1165.43 L681.11 1176.29 L686.72 1187.49 L692.32 1199.02 L697.92 1210.88 L703.52 1223.07 L709.13 1235.6 L714.73 1248.46 L720.33 1261.65 L725.93 1275.17 L731.54 1289.03 L737.14 1303.22 L742.74 1317.74 L748.34 1332.6 L753.95 1347.79 L759.55 1363.31 L765.15 1379.16 L770.75 1395.35 L776.36 1411.87 L781.96 1428.72 L787.56 1445.9 L793.17 1463.42 L798.77 1481.27 L804.37 1499.45 L809.97 1517.97 L815.58 1536.82 L821.18 1556 L826.78 1575.51 L832.38 1595.36 L837.99 1615.54 L843.59 1636.05 L849.19 1656.89 L854.79 1678.07 L860.4 1699.58 L866 1721.42 L871.6 1743.6 L877.21 1766.11 L882.81 1788.95 L888.41 1812.12 L894.01 1835.63 L899.62 1859.47 L905.22 1883.64 L910.82 1908.14 L916.42 1932.98 L922.03 1958.15 L927.63 1983.66 L933.23 2009.49 L938.83 2035.66 L944.44 2062.16 L950.04 2088.99 L955.64 2116.16 L961.24 2143.66 L966.85 2171.49 L972.45 2199.66 L978.05 2228.15 L983.66 2256.98 L989.26 2286.15 L994.86 2315.64 L1000.46 2345.47 L1006.07 2375.63 L1011.67 2406.13 L1017.27 2436.95 L1022.87 2468.11 L1028.48 2499.6 L1034.08 2531.43" stroke-width="2.7" stroke-dasharray="8.9 3.7" stroke-dashoffset="0"/>
<path d="M137.36 888.5H209.38M208.78 1044.8H322.58M265.68 1012V1085.6M321.98 1075.1H446.65M384.31 1057.7V1094.6M446.05 1005.2H559.85M502.95 994.6V1017M559.25 1069.9H683.91M621.58 1052.9V1087.5M683.31 1318H797.11M740.21 1259.2V1391M796.51 1374.2H1034.38" stroke-width="2.5"/>
<path d="M262.08 1012h7.2M262.08 1085.6h7.2M380.71 1057.7h7.2M380.71 1094.6h7.2M499.35 994.6h7.2M499.35 1017h7.2M617.98 1052.9h7.2M617.98 1087.5h7.2M736.61 1259.2h7.2M736.61 1391h7.2" stroke-width="1.5"/>
<path d="M173.37 883.8V1566.6M915.45 1369.5V1566.6" stroke-width="2.2"/>
<path d="M161.37 876.5H185.37L173.37 900.5ZM903.45 1362.2H927.45L915.45 1386.2Z" stroke-width="1.8" stroke-linejoin="miter"/>
</g>
<rect x="126.8" y="873.8" width="917.1" height="687.8" fill="none" stroke="#000" stroke-width="1.6"/>
<g font-family="'DejaVu Sans','Liberation Sans',sans-serif" fill="#111" stroke="#111" stroke-width="0.3" stroke-linejoin="round">
<text x="585.35" y="864" font-size="25.5" text-anchor="middle">4FGL J0336.0+7502</text>
<text x="585.35" y="1540" font-size="24.05" text-anchor="middle">LogParabola</text>
<text x="209.08" y="1589.25" font-size="28.4" text-anchor="middle">0.1</text>
<text x="446.35" y="1589.25" font-size="28.4" text-anchor="middle">1</text>
<text x="683.61" y="1589.25" font-size="28.4" text-anchor="middle">10</text>
<text x="920.87" y="1589.25" font-size="28.4" text-anchor="middle">100</text>
<text x="539.5" y="1623.2" font-size="28.7" text-anchor="middle">Energy (GeV)</text>
<text x="118.6" y="1520.39" font-size="29.3" text-anchor="end">10<tspan font-size="20.2" dy="-10.9" dx="0.3">−13</tspan></text>
<text x="118.6" y="1160.02" font-size="29.3" text-anchor="end">10<tspan font-size="20.2" dy="-10.9" dx="0.3">−12</tspan></text>
<text transform="translate(26.2 1355.35) rotate(-90)" font-size="29.0"><tspan x="1.43" y="0" font-style="oblique">ν</tspan><tspan x="17.28" y="0">F</tspan><tspan x="34.25" y="4.7" font-size="20.3" font-style="oblique">ν</tspan><tspan x="63.9" y="0">[erg cm</tspan><tspan x="175.98" y="-11" font-size="20.3">−2</tspan><tspan x="215.58" y="0">s</tspan><tspan x="230.88" y="-11" font-size="20.3">−1</tspan><tspan x="261.6" y="0">]</tspan></text>
</g>
<clipPath id="clip3"><rect x="1252.3" y="873.8" width="917.1" height="687.8"/></clipPath>
<g clip-path="url(#clip3)">
<path d="M1262.16 961.38 L1266.64 959.78 L1271.13 958.21 L1275.62 956.66 L1280.11 955.13 L1284.59 953.63 L1289.08 952.15 L1293.57 950.7 L1298.05 949.27 L1302.54 947.86 L1307.03 946.48 L1311.51 945.12 L1316 943.78 L1320.49 942.46 L1324.98 941.16 L1329.46 939.89 L1333.95 938.63 L1338.44 937.4 L1342.92 936.19 L1347.41 935 L1351.9 933.84 L1356.39 932.71 L1360.87 931.6 L1365.36 930.51 L1369.85 929.46 L1374.33 928.42 L1378.82 927.42 L1383.31 926.44 L1387.8 925.49 L1392.28 924.57 L1396.77 923.68 L1401.26 922.81 L1405.74 921.97 L1410.23 921.17 L1414.72 920.38 L1419.21 919.63 L1423.69 918.9 L1428.18 918.21 L1432.67 917.53 L1437.15 916.89 L1441.64 916.27 L1446.13 915.67 L1450.62 915.1 L1455.1 914.56 L1459.59 914.05 L1464.08 913.57 L1468.56 913.12 L1473.05 912.7 L1477.54 912.3 L1482.03 911.94 L1486.51 911.6 L1491 911.29 L1495.49 911 L1499.97 910.75 L1504.46 910.52 L1508.95 910.32 L1513.43 910.15 L1517.92 910.01 L1522.41 909.9 L1526.9 909.82 L1531.38 909.77 L1535.87 909.75 L1540.36 909.76 L1544.84 909.8 L1549.33 909.87 L1553.82 909.96 L1558.31 910.09 L1562.79 910.24 L1567.28 910.42 L1571.77 910.62 L1576.25 910.86 L1580.74 911.13 L1585.23 911.43 L1589.72 911.76 L1594.2 912.12 L1598.69 912.51 L1603.18 912.93 L1607.66 913.37 L1612.15 913.85 L1616.64 914.35 L1621.13 914.88 L1625.61 915.44 L1630.1 916.02 L1634.59 916.63 L1639.07 917.26 L1643.56 917.92 L1648.05 918.6 L1652.54 919.31 L1657.02 920.05 L1661.51 920.81 L1666 921.6 L1670.48 922.42 L1674.97 923.28 L1679.46 924.16 L1683.95 925.07 L1688.43 926.01 L1692.92 926.98 L1697.41 927.99 L1701.89 929.02 L1706.38 930.09 L1710.87 931.18 L1715.35 932.3 L1719.84 933.44 L1724.33 934.61 L1728.82 935.81 L1733.3 937.04 L1737.79 938.3 L1742.28 939.59 L1746.76 940.91 L1751.25 942.26 L1755.74 943.65 L1760.23 945.06 L1764.71 946.51 L1769.2 947.99 L1773.69 949.51 L1778.17 951.05 L1782.66 952.63 L1787.15 954.24 L1791.64 955.88 L1796.12 957.55 L1800.61 959.25 L1805.1 960.99 L1809.58 962.75 L1814.07 964.55 L1818.56 966.38 L1823.05 968.24 L1827.53 970.13 L1832.02 972.05 L1836.51 974 L1840.99 975.98 L1845.48 978 L1849.97 980.04 L1854.46 982.12 L1858.94 984.22 L1863.43 986.36 L1867.92 988.53 L1872.4 990.73 L1876.89 992.96 L1881.38 995.23 L1885.87 997.52 L1890.35 999.85 L1894.84 1002.21 L1899.33 1004.59 L1903.81 1007.01 L1908.3 1009.46 L1912.79 1011.94 L1917.27 1014.45 L1921.76 1016.99 L1926.25 1019.56 L1930.74 1022.15 L1935.22 1024.78 L1939.71 1027.43 L1944.2 1030.12 L1948.68 1032.83 L1953.17 1035.57 L1957.66 1038.33 L1962.15 1041.13 L1966.63 1043.96 L1971.12 1046.81 L1975.61 1049.69 L1980.09 1052.6 L1984.58 1055.54 L1989.07 1058.51 L1993.56 1061.5 L1998.04 1064.52 L2002.53 1067.56 L2007.02 1070.64 L2011.5 1073.73 L2015.99 1076.85 L2020.48 1080 L2024.97 1083.17 L2029.45 1086.36 L2033.94 1089.58 L2038.43 1092.82 L2042.91 1096.08 L2047.4 1099.35 L2051.89 1102.63 L2056.38 1105.91 L2060.86 1109.21 L2065.35 1112.52 L2069.84 1115.84 L2074.32 1119.19 L2078.81 1122.55 L2083.3 1125.94 L2087.79 1129.35 L2092.27 1132.79 L2096.76 1136.26 L2101.25 1139.76 L2105.73 1143.29 L2110.22 1146.85 L2114.71 1150.42 L2119.19 1154.01 L2123.68 1157.62 L2128.17 1161.25 L2132.66 1164.9 L2137.14 1168.57 L2141.63 1172.26 L2146.12 1175.96 L2150.6 1179.68 L2155.09 1183.41 L2159.58 1187.17 L2159.58 1235.17 L2155.09 1230.29 L2150.6 1225.45 L2146.12 1220.66 L2141.63 1215.92 L2137.14 1211.23 L2132.66 1206.58 L2128.17 1201.98 L2123.68 1197.41 L2119.19 1192.89 L2114.71 1188.42 L2110.22 1183.99 L2105.73 1179.61 L2101.25 1175.27 L2096.76 1170.96 L2092.27 1166.68 L2087.79 1162.43 L2083.3 1158.22 L2078.81 1154.05 L2074.32 1149.92 L2069.84 1145.83 L2065.35 1141.79 L2060.86 1137.79 L2056.38 1133.85 L2051.89 1129.95 L2047.4 1126.11 L2042.91 1122.33 L2038.43 1118.6 L2033.94 1114.92 L2029.45 1111.27 L2024.97 1107.67 L2020.48 1104.1 L2015.99 1100.58 L2011.5 1097.09 L2007.02 1093.64 L2002.53 1090.23 L1998.04 1086.86 L1993.56 1083.52 L1989.07 1080.22 L1984.58 1076.96 L1980.09 1073.73 L1975.61 1070.54 L1971.12 1067.38 L1966.63 1064.26 L1962.15 1061.18 L1957.66 1058.12 L1953.17 1055.1 L1948.68 1052.12 L1944.2 1049.17 L1939.71 1046.26 L1935.22 1043.38 L1930.74 1040.54 L1926.25 1037.73 L1921.76 1034.95 L1917.27 1032.21 L1912.79 1029.5 L1908.3 1026.83 L1903.81 1024.19 L1899.33 1021.58 L1894.84 1019.01 L1890.35 1016.47 L1885.87 1013.96 L1881.38 1011.48 L1876.89 1009.03 L1872.4 1006.62 L1867.92 1004.24 L1863.43 1001.88 L1858.94 999.57 L1854.46 997.28 L1849.97 995.02 L1845.48 992.8 L1840.99 990.61 L1836.51 988.46 L1832.02 986.33 L1827.53 984.24 L1823.05 982.18 L1818.56 980.15 L1814.07 978.16 L1809.58 976.19 L1805.1 974.26 L1800.61 972.36 L1796.12 970.49 L1791.64 968.66 L1787.15 966.86 L1782.66 965.08 L1778.17 963.35 L1773.69 961.64 L1769.2 959.96 L1764.71 958.32 L1760.23 956.7 L1755.74 955.12 L1751.25 953.56 L1746.76 952.04 L1742.28 950.55 L1737.79 949.09 L1733.3 947.66 L1728.82 946.27 L1724.33 944.92 L1719.84 943.59 L1715.35 942.31 L1710.87 941.06 L1706.38 939.84 L1701.89 938.67 L1697.41 937.53 L1692.92 936.42 L1688.43 935.34 L1683.95 934.3 L1679.46 933.28 L1674.97 932.3 L1670.48 931.35 L1666 930.44 L1661.51 929.56 L1657.02 928.72 L1652.54 927.91 L1648.05 927.14 L1643.56 926.4 L1639.07 925.71 L1634.59 925.05 L1630.1 924.42 L1625.61 923.84 L1621.13 923.3 L1616.64 922.79 L1612.15 922.32 L1607.66 921.88 L1603.18 921.48 L1598.69 921.12 L1594.2 920.78 L1589.72 920.49 L1585.23 920.22 L1580.74 919.99 L1576.25 919.79 L1571.77 919.62 L1567.28 919.48 L1562.79 919.39 L1558.31 919.32 L1553.82 919.29 L1549.33 919.3 L1544.84 919.34 L1540.36 919.42 L1535.87 919.53 L1531.38 919.67 L1526.9 919.85 L1522.41 920.06 L1517.92 920.3 L1513.43 920.58 L1508.95 920.89 L1504.46 921.24 L1499.97 921.62 L1495.49 922.03 L1491 922.49 L1486.51 922.97 L1482.03 923.5 L1477.54 924.05 L1473.05 924.65 L1468.56 925.27 L1464.08 925.94 L1459.59 926.63 L1455.1 927.36 L1450.62 928.13 L1446.13 928.93 L1441.64 929.76 L1437.15 930.64 L1432.67 931.55 L1428.18 932.49 L1423.69 933.48 L1419.21 934.5 L1414.72 935.56 L1410.23 936.65 L1405.74 937.78 L1401.26 938.94 L1396.77 940.14 L1392.28 941.37 L1387.8 942.64 L1383.31 943.94 L1378.82 945.28 L1374.33 946.66 L1369.85 948.07 L1365.36 949.52 L1360.87 951.01 L1356.39 952.53 L1351.9 954.09 L1347.41 955.69 L1342.92 957.33 L1338.44 959.01 L1333.95 960.72 L1329.46 962.48 L1324.98 964.28 L1320.49 966.12 L1316 968.01 L1311.51 969.93 L1307.03 971.9 L1302.54 973.91 L1298.05 975.96 L1293.57 978.05 L1289.08 980.18 L1284.59 982.35 L1280.11 984.56 L1275.62 986.8 L1271.13 989.09 L1266.64 991.42 L1262.16 993.78 Z" fill="#dedede"/>
</g>
<path d="M1263.16 1561.6v-8M1263.16 873.8v8M1281.94 1561.6v-8M1281.94 873.8v8M1297.83 1561.6v-8M1297.83 873.8v8M1311.59 1561.6v-8M1311.59 873.8v8M1323.72 1561.6v-8M1323.72 873.8v8M1334.58 1561.6v-16M1334.58 873.8v16M1406 1561.6v-8M1406 873.8v8M1447.78 1561.6v-8M1447.78 873.8v8M1477.43 1561.6v-8M1477.43 873.8v8M1500.42 1561.6v-8M1500.42 873.8v8M1519.21 1561.6v-8M1519.21 873.8v8M1535.09 1561.6v-8M1535.09 873.8v8M1548.85 1561.6v-8M1548.85 873.8v8M1560.99 1561.6v-8M1560.99 873.8v8M1571.85 1561.6v-16M1571.85 873.8v16M1643.27 1561.6v-8M1643.27 873.8v8M1685.05 1561.6v-8M1685.05 873.8v8M1714.69 1561.6v-8M1714.69 873.8v8M1737.69 1561.6v-8M1737.69 873.8v8M1756.47 1561.6v-8M1756.47 873.8v8M1772.36 1561.6v-8M1772.36 873.8v8M1786.12 1561.6v-8M1786.12 873.8v8M1798.25 1561.6v-8M1798.25 873.8v8M1809.11 1561.6v-16M1809.11 873.8v16M1880.53 1561.6v-8M1880.53 873.8v8M1922.31 1561.6v-8M1922.31 873.8v8M1951.96 1561.6v-8M1951.96 873.8v8M1974.95 1561.6v-8M1974.95 873.8v8M1993.74 1561.6v-8M1993.74 873.8v8M2009.62 1561.6v-8M2009.62 873.8v8M2023.38 1561.6v-8M2023.38 873.8v8M2035.52 1561.6v-8M2035.52 873.8v8M2046.37 1561.6v-16M2046.37 873.8v16M2117.8 1561.6v-8M2117.8 873.8v8M2159.58 1561.6v-8M2159.58 873.8v8M1252.3 1509.6h8M2169.4 1509.6h-8M1252.3 1405.48h8M2169.4 1405.48h-8M1252.3 1331.6h8M2169.4 1331.6h-8M1252.3 1274.3h8M2169.4 1274.3h-8M1252.3 1227.48h8M2169.4 1227.48h-8M1252.3 1187.89h8M2169.4 1187.89h-8M1252.3 1153.6h8M2169.4 1153.6h-8M1252.3 1123.36h8M2169.4 1123.36h-8M1252.3 1096.3h16M2169.4 1096.3h-16M1252.3 918.3h8M2169.4 918.3h-8" stroke="#000" stroke-width="1.25" fill="none"/>
<g clip-path="url(#clip3)" fill="none" stroke="#000">
<path d="M1263.16 977.13 L1268.76 974.67 L1274.36 972.26 L1279.96 969.9 L1285.57 967.59 L1291.17 965.33 L1296.77 963.11 L1302.38 960.95 L1307.98 958.84 L1313.58 956.77 L1319.18 954.75 L1324.79 952.79 L1330.39 950.87 L1335.99 949 L1341.59 947.18 L1347.2 945.41 L1352.8 943.69 L1358.4 942.02 L1364 940.4 L1369.61 938.83 L1375.21 937.31 L1380.81 935.83 L1386.41 934.41 L1392.02 933.04 L1397.62 931.71 L1403.22 930.43 L1408.83 929.21 L1414.43 928.03 L1420.03 926.9 L1425.63 925.82 L1431.24 924.79 L1436.84 923.81 L1442.44 922.88 L1448.04 922 L1453.65 921.17 L1459.25 920.39 L1464.85 919.66 L1470.45 918.97 L1476.06 918.34 L1481.66 917.75 L1487.26 917.22 L1492.86 916.73 L1498.47 916.29 L1504.07 915.91 L1509.67 915.57 L1515.28 915.28 L1520.88 915.04 L1526.48 914.85 L1532.08 914.71 L1537.69 914.62 L1543.29 914.57 L1548.89 914.58 L1554.49 914.64 L1560.1 914.74 L1565.7 914.9 L1571.3 915.1 L1576.9 915.36 L1582.51 915.66 L1588.11 916.01 L1593.71 916.41 L1599.32 916.86 L1604.92 917.36 L1610.52 917.91 L1616.12 918.51 L1621.73 919.16 L1627.33 919.86 L1632.93 920.61 L1638.53 921.4 L1644.14 922.25 L1649.74 923.14 L1655.34 924.09 L1660.94 925.08 L1666.55 926.13 L1672.15 927.22 L1677.75 928.36 L1683.35 929.55 L1688.96 930.79 L1694.56 932.08 L1700.16 933.42 L1705.77 934.81 L1711.37 936.25 L1716.97 937.74 L1722.57 939.27 L1728.18 940.86 L1733.78 942.49 L1739.38 944.18 L1744.98 945.91 L1750.59 947.7 L1756.19 949.53 L1761.79 951.41 L1767.39 953.34 L1773 955.32 L1778.6 957.35 L1784.2 959.43 L1789.8 961.56 L1795.41 963.74 L1801.01 965.97 L1806.61 968.25 L1812.22 970.57 L1817.82 972.95 L1823.42 975.37 L1829.02 977.85 L1834.63 980.37 L1840.23 982.94 L1845.83 985.57 L1851.43 988.24 L1857.04 990.96 L1862.64 993.73 L1868.24 996.55 L1873.84 999.42 L1879.45 1002.34 L1885.05 1005.3 L1890.65 1008.32 L1896.25 1011.39 L1901.86 1014.5 L1907.46 1017.67 L1913.06 1020.88 L1918.67 1024.15 L1924.27 1027.46 L1929.87 1030.82 L1935.47 1034.23 L1941.08 1037.69 L1946.68 1041.2 L1952.28 1044.76 L1957.88 1048.37 L1963.49 1052.03 L1969.09 1055.74 L1974.69 1059.5 L1980.29 1063.3 L1985.9 1067.16 L1991.5 1071.07 L1997.1 1075.02 L2002.71 1079.02 L2008.31 1083.08 L2013.91 1087.18 L2019.51 1091.33 L2025.12 1095.53 L2030.72 1099.78 L2036.32 1104.08 L2041.92 1108.43 L2047.53 1112.83 L2053.13 1117.28 L2058.73 1121.78 L2064.33 1126.32 L2069.94 1130.92 L2075.54 1135.57 L2081.14 1140.26 L2086.74 1145 L2092.35 1149.8 L2097.95 1154.64 L2103.55 1159.53 L2109.16 1164.47 L2114.76 1169.46 L2120.36 1174.5 L2125.96 1179.59 L2131.57 1184.73 L2137.17 1189.92 L2142.77 1195.16 L2148.37 1200.45 L2153.98 1205.78 L2159.58 1211.17" stroke-width="2.7" stroke-dasharray="8.9 3.7" stroke-dashoffset="0"/>
<path d="M1262.86 1160.3H1334.88M1298.87 1099.1V1240.5M1334.28 1042.9H1448.08M1391.18 1021.2V1067.2M1447.48 905.4H1572.15M1509.81 898V913.9M1571.55 913.7H1685.35M1628.45 906.9V920.1M1684.75 972H1809.41M1747.08 962.3V982.3M1808.81 975.8H1922.61M1865.71 962.1V990.4M1922.01 1065.1H2159.88M2040.95 1041.7V1091.2" stroke-width="2.5"/>
<path d="M1295.27 1099.1h7.2M1295.27 1240.5h7.2M1387.58 1021.2h7.2M1387.58 1067.2h7.2M1506.21 898h7.2M1506.21 913.9h7.2M1624.85 906.9h7.2M1624.85 920.1h7.2M1743.48 962.3h7.2M1743.48 982.3h7.2M1862.11 962.1h7.2M1862.11 990.4h7.2M2037.35 1041.7h7.2M2037.35 1091.2h7.2" stroke-width="1.5"/>
</g>
<rect x="1252.3" y="873.8" width="917.1" height="687.8" fill="none" stroke="#000" stroke-width="1.6"/>
<g font-family="'DejaVu Sans','Liberation Sans',sans-serif" fill="#111" stroke="#111" stroke-width="0.3" stroke-linejoin="round">
<text x="1710.85" y="864" font-size="25.5" text-anchor="middle">4FGL J2028.6+4110e - Cygnus X</text>
<text x="1710.85" y="1531" font-size="24.05" text-anchor="middle">LogParabola</text>
<text x="1334.58" y="1589.25" font-size="28.4" text-anchor="middle">0.1</text>
<text x="1571.85" y="1589.25" font-size="28.4" text-anchor="middle">1</text>
<text x="1809.11" y="1589.25" font-size="28.4" text-anchor="middle">10</text>
<text x="2046.37" y="1589.25" font-size="28.4" text-anchor="middle">100</text>
<text x="1664.99" y="1623.2" font-size="28.7" text-anchor="middle">Energy (GeV)</text>
<text x="1244.1" y="1106.55" font-size="29.3" text-anchor="end">10<tspan font-size="20.2" dy="-10.9" dx="0.3">−10</tspan></text>
<text transform="translate(1151.7 1355.35) rotate(-90)" font-size="29.0"><tspan x="1.43" y="0" font-style="oblique">ν</tspan><tspan x="17.28" y="0">F</tspan><tspan x="34.25" y="4.7" font-size="20.3" font-style="oblique">ν</tspan><tspan x="63.9" y="0">[erg cm</tspan><tspan x="175.98" y="-11" font-size="20.3">−2</tspan><tspan x="215.58" y="0">s</tspan><tspan x="230.88" y="-11" font-size="20.3">−1</tspan><tspan x="261.6" y="0">]</tspan></text>
</g>
</svg>
</body></html>
